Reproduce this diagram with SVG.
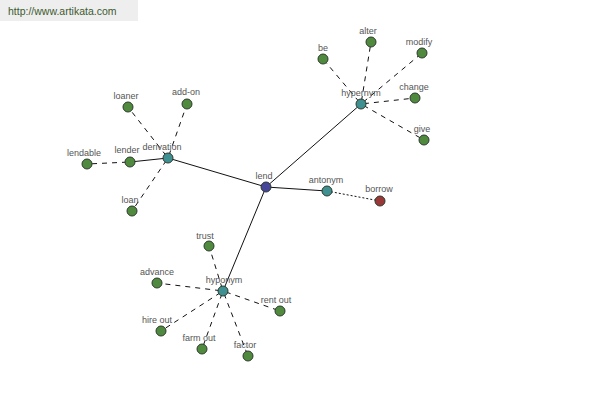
<svg xmlns="http://www.w3.org/2000/svg" width="600" height="400" viewBox="0 0 600 400">
<style>
.bg{fill:#ffffff}
.hdr{fill:#eeeeee}
.hdrt{font-family:"Liberation Sans",Arial,sans-serif;font-size:10.5px;fill:#3d5a2e}
.lbl{font-family:"Liberation Sans",Arial,sans-serif;font-size:9px;fill:#555555;text-anchor:middle}
.n{stroke:#2e3a2e;stroke-width:1}
.leaf{fill:#4f8a3f}
.cat{fill:#3f9090}
.root{fill:#45459a}
.ant{fill:#9a3838}
.solid{stroke:#111111;stroke-width:1;fill:none}
.dash{stroke:#111111;stroke-width:1;stroke-dasharray:5,5;stroke-dashoffset:-3;fill:none}
.dot{stroke:#111111;stroke-width:1;stroke-dasharray:2,2;fill:none}
</style>
<rect class="bg" x="0" y="0" width="600" height="400"/>
<rect class="hdr" x="0" y="0" width="138" height="21"/>
<text class="hdrt" x="8" y="15">http://www.artikata.com</text>
<g id="connectors">
<line class="solid" x1="266" y1="187" x2="168" y2="158"/>
<line class="solid" x1="266" y1="187" x2="361" y2="104"/>
<line class="solid" x1="266" y1="187" x2="327" y2="191"/>
<line class="solid" x1="266" y1="187" x2="223" y2="291"/>
<line class="dot" x1="327" y1="191" x2="380" y2="201"/>
<line class="solid" x1="168" y1="158" x2="130" y2="162"/>
<line class="dash" x1="168" y1="158" x2="128" y2="107"/>
<line class="dash" x1="168" y1="158" x2="187" y2="104"/>
<line class="dash" x1="168" y1="158" x2="132" y2="211"/>
<line class="dash" x1="130" y1="162" x2="87" y2="164"/>
<line class="dash" x1="361" y1="104" x2="323" y2="59"/>
<line class="dash" x1="361" y1="104" x2="371" y2="42"/>
<line class="dash" x1="361" y1="104" x2="422" y2="53"/>
<line class="dash" x1="361" y1="104" x2="415" y2="98"/>
<line class="dash" x1="361" y1="104" x2="424" y2="140"/>
<line class="dash" x1="223" y1="291" x2="209" y2="246"/>
<line class="dash" x1="223" y1="291" x2="157" y2="283"/>
<line class="dash" x1="223" y1="291" x2="280" y2="311"/>
<line class="dash" x1="223" y1="291" x2="161" y2="331"/>
<line class="dash" x1="223" y1="291" x2="202" y2="349"/>
<line class="dash" x1="223" y1="291" x2="248" y2="356"/>
</g>
<g id="lend"><circle class="n root" cx="266" cy="187" r="5"/><text class="lbl" x="264" y="179">lend</text></g>
<g id="derivation"><circle class="n cat" cx="168" cy="158" r="5"/><text class="lbl" x="162" y="150">derivation</text></g>
<g id="hypernym"><circle class="n cat" cx="361" cy="104" r="5"/><text class="lbl" x="361" y="96">hypernym</text></g>
<g id="antonym"><circle class="n cat" cx="327" cy="191" r="5"/><text class="lbl" x="326" y="183">antonym</text></g>
<g id="hyponym"><circle class="n cat" cx="223" cy="291" r="5"/><text class="lbl" x="224" y="283">hyponym</text></g>
<g id="borrow"><circle class="n ant" cx="380" cy="201" r="5"/><text class="lbl" x="379" y="192">borrow</text></g>
<g id="loaner"><circle class="n leaf" cx="128" cy="107" r="5"/><text class="lbl" x="126" y="99">loaner</text></g>
<g id="add-on"><circle class="n leaf" cx="187" cy="104" r="5"/><text class="lbl" x="186" y="95">add-on</text></g>
<g id="lender"><circle class="n leaf" cx="130" cy="162" r="5"/><text class="lbl" x="127" y="153">lender</text></g>
<g id="lendable"><circle class="n leaf" cx="87" cy="164" r="5"/><text class="lbl" x="84" y="156">lendable</text></g>
<g id="loan"><circle class="n leaf" cx="132" cy="211" r="5"/><text class="lbl" x="130" y="203">loan</text></g>
<g id="be"><circle class="n leaf" cx="323" cy="59" r="5"/><text class="lbl" x="323" y="51">be</text></g>
<g id="alter"><circle class="n leaf" cx="371" cy="42" r="5"/><text class="lbl" x="368" y="34">alter</text></g>
<g id="modify"><circle class="n leaf" cx="422" cy="53" r="5"/><text class="lbl" x="419" y="45">modify</text></g>
<g id="change"><circle class="n leaf" cx="415" cy="98" r="5"/><text class="lbl" x="414" y="90">change</text></g>
<g id="give"><circle class="n leaf" cx="424" cy="140" r="5"/><text class="lbl" x="422" y="132">give</text></g>
<g id="trust"><circle class="n leaf" cx="209" cy="246" r="5"/><text class="lbl" x="205" y="239">trust</text></g>
<g id="advance"><circle class="n leaf" cx="157" cy="283" r="5"/><text class="lbl" x="157" y="275">advance</text></g>
<g id="rent-out"><circle class="n leaf" cx="280" cy="311" r="5"/><text class="lbl" x="276" y="303">rent out</text></g>
<g id="hire-out"><circle class="n leaf" cx="161" cy="331" r="5"/><text class="lbl" x="157" y="323">hire out</text></g>
<g id="farm-out"><circle class="n leaf" cx="202" cy="349" r="5"/><text class="lbl" x="199" y="341">farm out</text></g>
<g id="factor"><circle class="n leaf" cx="248" cy="356" r="5"/><text class="lbl" x="245" y="348">factor</text></g>
</svg>
